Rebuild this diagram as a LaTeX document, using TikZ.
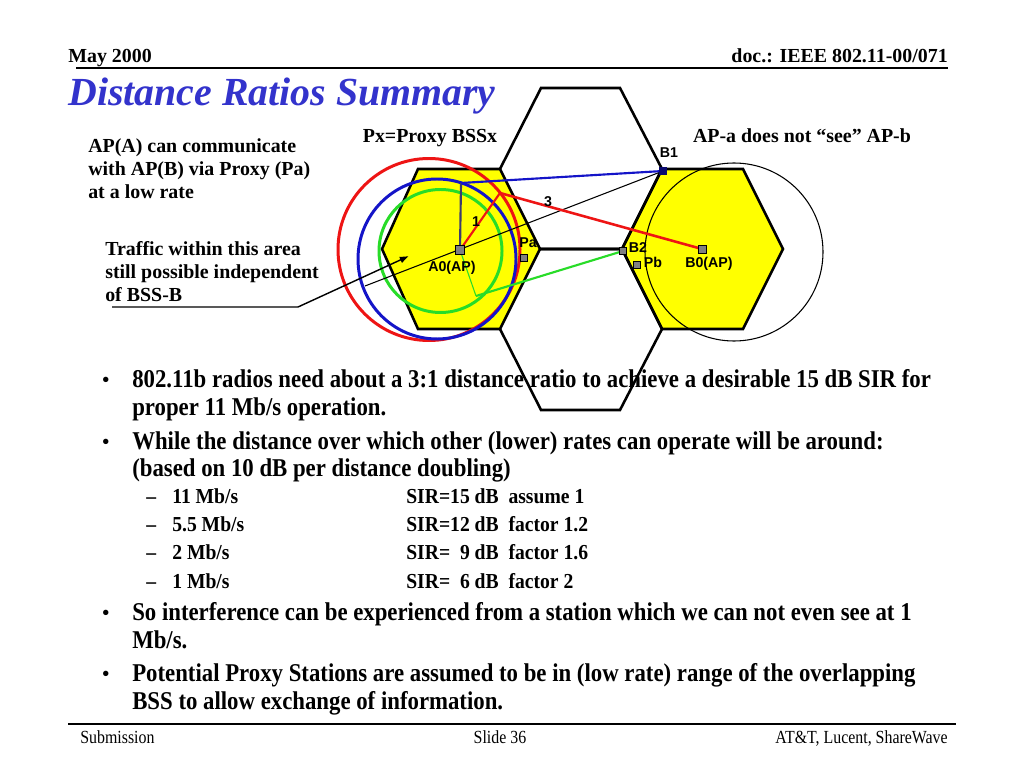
\documentclass[tikz,border=0pt]{standalone}
\usepackage{fontspec}
\setmainfont{Liberation Serif}
\newfontfamily\condf[FakeStretch=0.89]{Liberation Serif}
\newfontfamily\subf[FakeStretch=0.92]{Liberation Serif}
\newfontfamily\footf[FakeStretch=0.86]{Liberation Serif}
\newfontfamily\arialf{Liberation Sans}
\usetikzlibrary{arrows.meta}
\definecolor{titleblue}{RGB}{51,51,204}
\definecolor{cred}{RGB}{238,20,20}
\definecolor{cblue}{RGB}{20,20,200}
\definecolor{cgreen}{RGB}{40,220,40}
\definecolor{slate}{RGB}{60,60,110}
\definecolor{cyel}{RGB}{255,255,0}
\definecolor{stagray}{RGB}{128,128,128}
\definecolor{navyb}{RGB}{10,10,110}
\tikzset{
  hexline/.style={draw=black, line width=1.8pt, line join=miter},
  ring/.style={line width=2.1pt},
  link/.style={line width=1.5pt},
  thinline/.style={line width=0.75pt},
  sta/.style={draw=black, fill=stagray, line width=0.5pt, inner sep=0pt, minimum size=5pt},
  lbl/.style={inner sep=0pt, font=\arialf\bfseries\fontsize{10}{12}\selectfont},
  hdr/.style={inner sep=0pt, font=\bfseries\fontsize{14}{16}\selectfont},
  note/.style={anchor=base west, inner sep=0pt, font=\bfseries\fontsize{14}{16}\selectfont},
  body/.style={anchor=base west, inner sep=0pt, font=\condf\bfseries\fontsize{18}{22}\selectfont},
  dot/.style={anchor=base west, inner sep=0pt, font=\bfseries\fontsize{14}{16}\selectfont},
  subt/.style={anchor=base west, inner sep=0pt, font=\subf\bfseries\fontsize{15}{18}\selectfont},
  foot/.style={inner sep=0pt, font=\footf\fontsize{13}{15}\selectfont},
}
\begin{document}
\begin{tikzpicture}[x=0.703125pt,y=-0.703125pt]
\useasboundingbox (0,0) rectangle (1024,768);
\fill[white] (0,0) rectangle (1024,768);

% header
\node[hdr, anchor=base west] (date) at (68,63) {May 2000};
\node[hdr, anchor=base east] (doc) at (948,63) {doc.: IEEE 802.11-00/071};
\coordinate (hl0) at (76,68);
\coordinate (hl1) at (948,68);
\draw[line width=1.2pt] (hl0) -- (hl1);
\node[anchor=base west, inner sep=0pt, text=titleblue,
      font=\bfseries\itshape\fontsize{28}{32}\selectfont] (title) at (68,106) {Distance Ratios Summary};

% hexagons
\fill[cyel] (382,249) -- (418,169) -- (500,169) -- (540,249) -- (500,329) -- (418,329) -- cycle;
\fill[cyel] (622,249) -- (662,169) -- (743,169) -- (783,249) -- (743,329) -- (662,329) -- cycle;
\draw[hexline] (382,249) -- (418,169) -- (500,169) -- (540,249) -- (500,329) -- (418,329) -- cycle;
\draw[hexline] (500,169) -- (541,88) -- (620,88) -- (662,169) -- (622,249) -- (540,249);
\draw[hexline] (540,249) -- (622,249) -- (662,329) -- (620,410) -- (541,410) -- (500,329);
\draw[hexline] (622,249) -- (662,169) -- (743,169) -- (783,249) -- (743,329) -- (662,329) -- cycle;

% range circles
\draw[ring, cred] (429,249.5) circle [radius=91];
\draw[ring, cblue] (437,259) ellipse [x radius=79, y radius=80];
\draw[ring, cgreen] (440.5,251) circle [radius=61.5];
\draw[thinline] (734,252) circle [radius=89];

% stations
\node[sta, minimum size=6.5pt] (A0) at (460,250) {};
\node[sta] (Pa) at (524,258) {};
\node[sta] (B2) at (623,251) {};
\node[sta] (Pb) at (637,265) {};
\node[sta, minimum size=5.5pt] (B0) at (702,249) {};
\node[sta, fill=navyb, draw=navyb] (B1) at (663,171) {};

% turning points
\coordinate (bturn) at (461,183);
\coordinate (rturn) at (500,193);
\coordinate (gturn) at (476,296);
\coordinate (thin0) at (365,286);
\coordinate (ul0) at (112,307);
\coordinate (ul1) at (298,307);
\coordinate (arrtip) at (409,256);

% links
\draw[thinline] (thin0) -- (B1.center);
\draw[link, slate] (A0.center) -- (bturn);
\draw[link, cblue] (bturn) -- (B1.center);
\draw[link, cred] (A0.center) -- (rturn);
\draw[line width=1.8pt, cred] (rturn) -- (B0.center);
\draw[thinline, cgreen] (A0.center) -- (gturn);
\draw[link, cgreen] (gturn) -- (B2.center);
\draw[line width=1pt, -{Latex[length=6.5pt,width=5pt]}] (ul0) -- (ul1) -- (arrtip);

% redraw stations on top
\node[sta, minimum size=6.5pt] at (A0) {};
\node[sta] at (Pa) {};
\node[sta] at (B2) {};
\node[sta] at (Pb) {};
\node[sta, minimum size=5.5pt] at (B0) {};
\node[sta, fill=navyb, draw=navyb] at (B1) {};

% diagram labels
\node[lbl] (lA0) at (452,268) {A0(AP)};
\node[lbl] (lPa) at (528,243) {Pa};
\node[lbl] (lB2) at (638,248) {B2};
\node[lbl] (lPb) at (653,262) {Pb};
\node[lbl] (lB0) at (709,264) {B0(AP)};
\node[lbl] (lB1) at (669,153) {B1};
\node[lbl] (l1) at (476,222) {1};
\node[lbl] (l3) at (548,202) {3};

\node[hdr, anchor=base] (px) at (430,143) {Px=Proxy BSSx};
\node[hdr, anchor=base] (see) at (802,143) {AP-a does not “see” AP-b};

\node[note] (na1) at (88,153) {AP(A) can communicate};
\node[note] (na2) at (88,176) {with AP(B) via Proxy (Pa)};
\node[note] (na3) at (88,199) {at a low rate};
\node[note] (nb1) at (105,256) {Traffic within this area};
\node[note] (nb2) at (105,279) {still possible independent};
\node[note] (nb3) at (105,302) {of BSS-B};

% bullets
\node[dot] (d1) at (102,386) {•};
\node[body] (t1a) at (132,387) {802.11b radios need about a 3:1 distance ratio to achieve a desirable 15 dB SIR for};
\node[body] (t1b) at (132,415) {proper 11 Mb/s operation.};
\node[dot] (d2) at (102,448) {•};
\node[body] (t2a) at (132,449) {While the distance over which other (lower) rates can operate will be around:};
\node[body] (t2b) at (132,476) {(based on 10 dB per distance doubling)};

\node[subt] (s1d) at (146,503) {–};
\node[subt] (s1a) at (172,503) {11 Mb/s};
\node[subt] (s1b) at (406,503) {SIR=15 dB\ \ assume 1};
\node[subt] (s2d) at (146,531) {–};
\node[subt] (s2a) at (172,531) {5.5 Mb/s};
\node[subt] (s2b) at (406,531) {SIR=12 dB\ \ factor 1.2};
\node[subt] (s3d) at (146,559) {–};
\node[subt] (s3a) at (172,559) {2 Mb/s};
\node[subt] (s3b) at (406,559) {SIR=\ \ 9 dB\ \ factor 1.6};
\node[subt] (s4d) at (146,588) {–};
\node[subt] (s4a) at (172,588) {1 Mb/s};
\node[subt] (s4b) at (406,588) {SIR=\ \ 6 dB\ \ factor 2};

\node[dot] (d3) at (102,619) {•};
\node[body] (t3a) at (132,620) {So interference can be experienced from a station which we can not even see at 1};
\node[body] (t3b) at (132,648) {Mb/s.};
\node[dot] (d4) at (102,680) {•};
\node[body] (t4a) at (132,681) {Potential Proxy Stations are assumed to be in (low rate) range of the overlapping};
\node[body] (t4b) at (132,709) {BSS to allow exchange of information.};

% footer
\coordinate (fl0) at (68,724);
\coordinate (fl1) at (956,724);
\draw[line width=1.2pt] (fl0) -- (fl1);
\node[foot, anchor=base west] (sub) at (80,743) {Submission};
\node[foot, anchor=base] (slide) at (500,743) {Slide 36};
\node[foot, anchor=base east] (org) at (948,743) {AT\&T, Lucent, ShareWave};
\end{tikzpicture}
\end{document}
